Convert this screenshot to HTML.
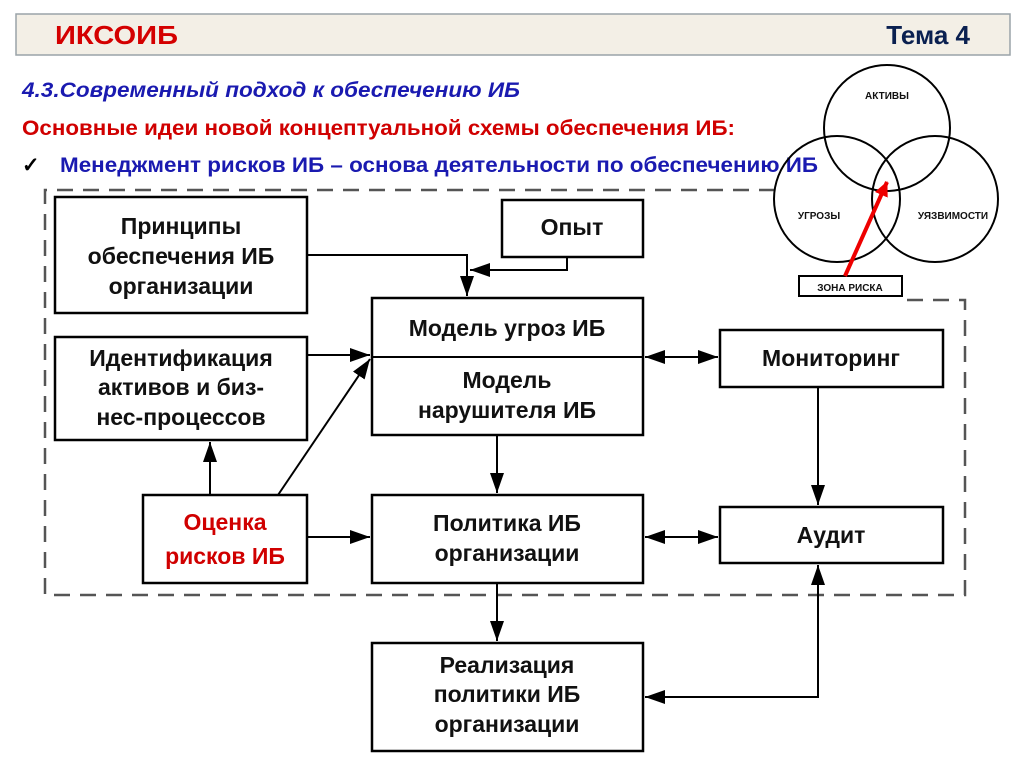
<!DOCTYPE html>
<html><head><meta charset="utf-8"><style>
html,body{margin:0;padding:0;background:#fff;width:1024px;height:767px;overflow:hidden}
svg{display:block}
.b{font-family:"Liberation Sans",sans-serif;font-weight:bold;font-size:23px;fill:#111;text-anchor:middle}
.s{font-family:"Liberation Sans",sans-serif;font-weight:bold;font-size:10px;fill:#111;text-anchor:middle}
.c{font-family:"Liberation Sans",sans-serif;font-weight:bold;font-size:21px}
</style></head><body>
<svg width="1024" height="767" viewBox="0 0 1024 767">
<defs>
<marker id="h" markerWidth="22" markerHeight="14" refX="20" refY="7" orient="auto" markerUnits="userSpaceOnUse"><path d="M0,0 L20,7 L0,14z" fill="#000"/></marker>
<marker id="r" markerWidth="16" markerHeight="14" refX="14" refY="7" orient="auto" markerUnits="userSpaceOnUse"><path d="M0,0 L15,7 L0,14z" fill="#e00"/></marker></defs>
<rect x="16" y="14" width="994" height="41" fill="#f3efe6" stroke="#9aa3a8" stroke-width="1.5"/>
<text x="55" y="44" font-family="Liberation Sans,sans-serif" font-weight="bold" font-size="26" fill="#d40000" textLength="123" lengthAdjust="spacingAndGlyphs">ИКСОИБ</text>
<text x="970" y="44" font-family="Liberation Sans,sans-serif" font-weight="bold" font-size="26" fill="#0a2050" text-anchor="end">Тема 4</text>
<text x="22" y="97" class="c" fill="#1a1ab0" font-style="italic" textLength="498" lengthAdjust="spacingAndGlyphs">4.3.Современный подход к  обеспечению ИБ</text>
<text x="22" y="135" class="c" fill="#d00000" textLength="713" lengthAdjust="spacingAndGlyphs">Основные идеи новой концептуальной схемы обеспечения ИБ:</text>
<text x="22" y="172" class="c" fill="#000" font-size="17">✓</text>
<text x="60" y="172" class="c" fill="#1a1ab0" textLength="758" lengthAdjust="spacingAndGlyphs">Менеджмент рисков ИБ – основа деятельности по обеспечению ИБ</text>
<g fill="none" stroke="#555" stroke-width="2.5" stroke-dasharray="16,10">
<path d="M775,190 H45 V595 H965 V300 H905"/></g>
<g fill="none" stroke="#000" stroke-width="2">
<circle cx="887" cy="128" r="63"/><circle cx="837" cy="199" r="63"/><circle cx="935" cy="199" r="63"/>
<rect x="799" y="276" width="103" height="20" fill="#fff"/>
</g>
<line x1="845" y1="276" x2="887" y2="182" stroke="#e00" stroke-width="4" marker-end="url(#r)"/>
<text x="887" y="99" class="s">АКТИВЫ</text><text x="819" y="219" class="s">УГРОЗЫ</text><text x="953" y="219" class="s">УЯЗВИМОСТИ</text><text x="850" y="291" class="s">ЗОНА РИСКА</text>
<g fill="#fff" stroke="#000" stroke-width="2.5">
<rect x="55" y="197" width="252" height="116"/><rect x="502" y="200" width="141" height="57"/>
<rect x="372" y="298" width="271" height="137"/><rect x="55" y="337" width="252" height="103"/>
<rect x="720" y="330" width="223" height="57"/><rect x="143" y="495" width="164" height="88"/>
<rect x="372" y="495" width="271" height="88"/><rect x="720" y="507" width="223" height="56"/>
<rect x="372" y="643" width="271" height="108"/>
</g>
<g fill="none" stroke="#000" stroke-width="2">
<line x1="372" y1="357" x2="643" y2="357"/>
<path d="M307,255 H467 V296" marker-end="url(#h)"/>
<path d="M567,257 V270 H470" marker-end="url(#h)"/>
<path d="M307,355 H370" marker-end="url(#h)"/>
<path d="M210,495 V442" marker-end="url(#h)"/>
<path d="M278,495 L370,359" marker-end="url(#h)"/>
<path d="M307,537 H370" marker-end="url(#h)"/>
<path d="M497,435 V493" marker-end="url(#h)"/>
<path d="M497,583 V641" marker-end="url(#h)"/>
<path d="M818,387 V505" marker-end="url(#h)"/>
<path d="M680,357 H718" marker-end="url(#h)"/><path d="M680,357 H645" marker-end="url(#h)"/>
<path d="M680,537 H718" marker-end="url(#h)"/><path d="M680,537 H645" marker-end="url(#h)"/>
<path d="M700,697 H645" marker-end="url(#h)"/><path d="M700,697 H818 V565" marker-end="url(#h)"/>
</g>
<text x="181" y="234" class="b">Принципы</text><text x="181" y="264" class="b">обеспечения ИБ</text><text x="181" y="294" class="b">организации</text>
<text x="572" y="235" class="b">Опыт</text>
<text x="507" y="336" class="b">Модель угроз ИБ</text><text x="507" y="388" class="b">Модель</text><text x="507" y="418" class="b">нарушителя ИБ</text>
<text x="181" y="366" class="b">Идентификация</text><text x="181" y="395" class="b">активов и биз-</text><text x="181" y="425" class="b">нес-процессов</text>
<text x="831" y="366" class="b">Мониторинг</text>
<text x="225" y="530" class="b" style="fill:#d00000">Оценка</text><text x="225" y="564" class="b" style="fill:#d00000">рисков ИБ</text>
<text x="507" y="531" class="b">Политика ИБ</text><text x="507" y="561" class="b">организации</text>
<text x="831" y="543" class="b">Аудит</text>
<text x="507" y="673" class="b">Реализация</text><text x="507" y="702" class="b">политики ИБ</text><text x="507" y="732" class="b">организации</text>
</svg>
</body></html>
